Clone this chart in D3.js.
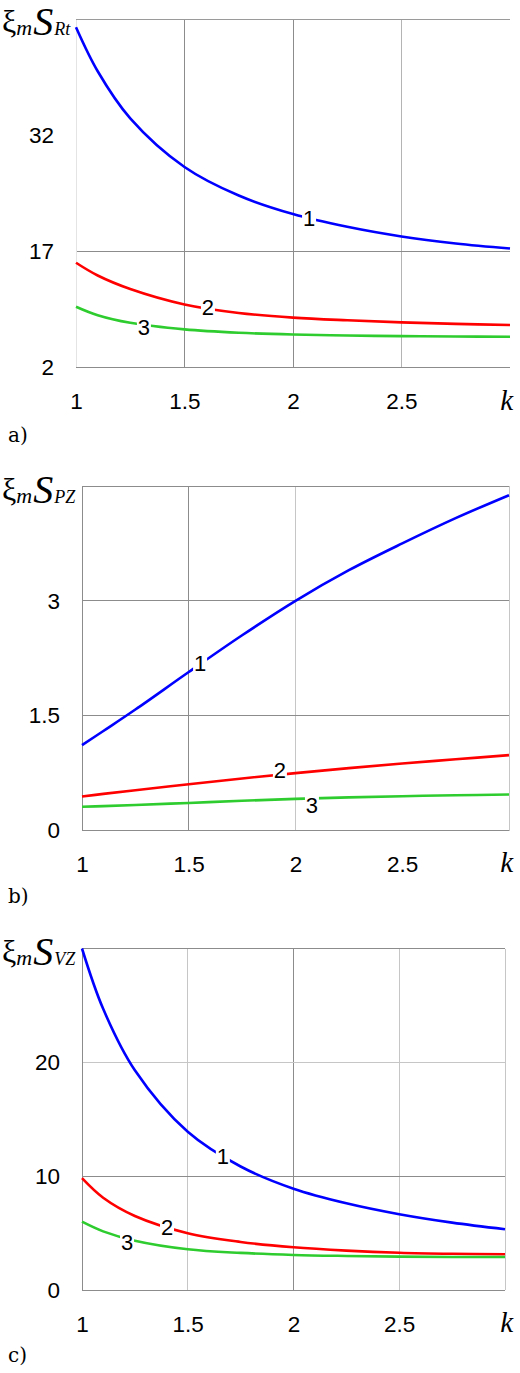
<!DOCTYPE html>
<html>
<head>
<meta charset="utf-8">
<script src="https://cdn.jsdelivr.net/npm/d3@7"></script>
<style>
  html, body { margin: 0; padding: 0; background: #fff; }
  svg { display: block; }
</style>
</head>
<body>
<svg id="chart" width="520" height="1373"></svg>
<script>
// ---------- data ----------
const kValues = [1, 1.1, 1.25, 1.5, 1.75, 2, 2.25, 2.5, 2.75, 3];
const xTickLabels = [1, 1.5, 2, 2.5];

// panel a: ξm S_Rt
const aCurve1 = [46.0, 40.3, 34.2, 27.9, 24.2, 21.8, 20.15, 18.9, 18.0, 17.35];
const aCurve2 = [15.5, 13.85, 12.1, 10.1, 9.0, 8.4, 8.05, 7.78, 7.58, 7.43];
const aCurve3 = [9.8, 8.7, 7.72, 6.87, 6.43, 6.2, 6.08, 6.0, 5.95, 5.92];
const aYTicks = [2, 17, 32];
const aYDomain = [2, 47];

// panel b: ξm S_PZ
const bCurve1 = [1.115, 1.30, 1.58, 2.07, 2.55, 3.0, 3.40, 3.75, 4.08, 4.38];
const bCurve2 = [0.445, 0.478, 0.525, 0.605, 0.68, 0.75, 0.815, 0.875, 0.93, 0.985];
const bCurve3 = [0.31, 0.318, 0.333, 0.36, 0.388, 0.413, 0.433, 0.448, 0.46, 0.47];
const bYTicks = [0, 1.5, 3];
const bYDomain = [0, 4.5];

// panel c: ξm S_VZ
const cCurve1 = [30.0, 24.7, 19.3, 13.9, 10.85, 8.9, 7.62, 6.66, 5.92, 5.34];
const cCurve2 = [9.82, 8.1, 6.5, 4.99, 4.22, 3.75, 3.46, 3.27, 3.18, 3.14];
const cCurve3 = [6.0, 5.15, 4.33, 3.58, 3.26, 3.08, 2.99, 2.93, 2.9, 2.9];
const cYTicks = [0, 10, 20];
const cYDomain = [0, 30];

const curveNames = ["1", "2", "3"];
// label anchor positions [k, value]
const aLabelPos = [[2.074, 21.3], [1.608, 9.76], [1.313, 7.17]];
const bLabelPos = [[1.553, 2.19], [1.927, 0.79], [2.077, 0.337]];
const cLabelPos = [[1.666, 11.8], [1.402, 5.54], [1.213, 4.22]];

const panelLetters = ["a)", "b)", "c)"];
const ySubscripts = ["Rt", "PZ", "VZ"];

// ---------- layout / style ----------
const colors = ["#0000ff", "#ff0000", "#2ecc2e"];
const DARK = "#8c8c8c", LIGHT = "#c6c6c6";

const panels = [
  { curves: [aCurve1, aCurve2, aCurve3], yTicks: aYTicks, yDomain: aYDomain, labels: aLabelPos,
    x0: 76, x1: 510, yBottom: 367, yTop: 19.5, titleBase: 35, letterBase: 442, kBase: 410,
    leftColor: "#e4e4e4", rightColor: null, topColor: "#9a9a9a",
    vgrid: [[1.5, DARK], [2, DARK], [2.5, "#b4b4b4"]], hgrid: [[17, DARK]] },
  { curves: [bCurve1, bCurve2, bCurve3], yTicks: bYTicks, yDomain: bYDomain, labels: bLabelPos,
    x0: 82, x1: 509, yBottom: 830.5, yTop: 486, titleBase: 503, letterBase: 903, kBase: 872,
    leftColor: DARK, rightColor: LIGHT, topColor: DARK,
    vgrid: [[1.5, DARK], [2, LIGHT]], hgrid: [[1.5, DARK], [3, DARK]] },
  { curves: [cCurve1, cCurve2, cCurve3], yTicks: cYTicks, yDomain: cYDomain, labels: cLabelPos,
    x0: 82, x1: 505, yBottom: 1290, yTop: 948.5, titleBase: 965, letterBase: 1362, kBase: 1332,
    leftColor: DARK, rightColor: LIGHT, topColor: DARK,
    vgrid: [[1.5, LIGHT], [2, DARK], [2.5, LIGHT]], hgrid: [[10, DARK], [20, LIGHT]] }
];

const svg = d3.select("#chart");
const sans = "'Liberation Sans', Arial, sans-serif";
const serif = "'Liberation Serif', 'Times New Roman', serif";

panels.forEach((p, pi) => {
  const x = d3.scaleLinear().domain([1, 3]).range([p.x0, p.x1]);
  const y = d3.scaleLinear().domain(p.yDomain).range([p.yBottom, p.yTop]);
  const g = svg.append("g");

  // grid
  p.vgrid.forEach(([v, c]) => {
    g.append("line").attr("x1", x(v)).attr("x2", x(v)).attr("y1", y(p.yDomain[0])).attr("y2", y(p.yDomain[1]))
      .attr("stroke", c).attr("stroke-width", 1).attr("shape-rendering", "crispEdges");
  });
  p.hgrid.forEach(([v, c]) => {
    g.append("line").attr("x1", x(1)).attr("x2", x(3)).attr("y1", y(v)).attr("y2", y(v))
      .attr("stroke", c).attr("stroke-width", 1).attr("shape-rendering", "crispEdges");
  });
  // frame lines
  g.append("line").attr("x1", x(1)).attr("x2", x(3)).attr("y1", y(p.yDomain[1])).attr("y2", y(p.yDomain[1]))
    .attr("stroke", p.topColor).attr("stroke-width", 1).attr("shape-rendering", "crispEdges");
  if (p.rightColor) {
    g.append("line").attr("x1", x(3)).attr("x2", x(3)).attr("y1", y(p.yDomain[0])).attr("y2", y(p.yDomain[1]))
      .attr("stroke", p.rightColor).attr("stroke-width", 1).attr("shape-rendering", "crispEdges");
  }
  g.append("line").attr("x1", x(1)).attr("x2", x(1)).attr("y1", y(p.yDomain[0])).attr("y2", y(p.yDomain[1]))
    .attr("stroke", p.leftColor).attr("stroke-width", 1).attr("shape-rendering", "crispEdges");
  g.append("line").attr("x1", x(1)).attr("x2", x(3)).attr("y1", y(p.yDomain[0])).attr("y2", y(p.yDomain[0]))
    .attr("stroke", DARK).attr("stroke-width", 1).attr("shape-rendering", "crispEdges");

  // axes (labels only)
  const xAxis = d3.axisBottom(x).tickValues(xTickLabels).tickSize(0).tickPadding(26).tickFormat(d3.format(""));
  const gx = g.append("g").attr("transform", `translate(0,${p.yBottom})`).call(xAxis);
  gx.select(".domain").remove();
  gx.selectAll("text").attr("font-family", sans).attr("font-size", 22.5).attr("fill", "#000");

  const yAxis = d3.axisLeft(y).tickValues(p.yTicks).tickSize(0).tickPadding(22).tickFormat(d3.format(""));
  const gy = g.append("g").attr("transform", `translate(${p.x0},0)`).call(yAxis);
  gy.select(".domain").remove();
  gy.selectAll("text").attr("font-family", sans).attr("font-size", 22.5).attr("fill", "#000");

  // curves
  const line = d3.line().x((d, i) => x(kValues[i])).y(d => y(d)).curve(d3.curveCatmullRom.alpha(0.5));
  p.curves.forEach((vals, ci) => {
    g.append("path").datum(vals).attr("d", line).attr("fill", "none")
      .attr("stroke", colors[ci]).attr("stroke-width", 2.6);
  });

  // curve labels
  p.labels.forEach(([kv, v], ci) => {
    const lx = x(kv), ly = y(v);
    g.append("rect").attr("x", lx - 7).attr("y", ly - 11).attr("width", 14).attr("height", 22).attr("fill", "#fff");
    g.append("text").attr("x", lx).attr("y", ly).attr("dy", "0.36em").attr("text-anchor", "middle")
      .attr("font-family", sans).attr("font-size", 22).attr("fill", "#000").text(curveNames[ci]);
  });

  // y title
  const t = svg.append("text").attr("x", 2).attr("y", p.titleBase).attr("font-family", serif).attr("fill", "#000");
  t.append("tspan").attr("font-size", 32).attr("dy", -3).text("ξ");
  t.append("tspan").attr("font-size", 22).attr("font-style", "italic").attr("dy", 3).text("m");
  t.append("tspan").attr("font-size", 40).attr("font-style", "italic").attr("dx", 1).text("S");
  t.append("tspan").attr("font-size", 18).attr("font-style", "italic").attr("dx", 1).text(ySubscripts[pi]);

  // k label
  svg.append("text").attr("x", 513).attr("y", p.kBase).attr("text-anchor", "end")
    .attr("font-family", serif).attr("font-style", "italic").attr("font-size", 29).attr("fill", "#000").text("k");

  // panel letter
  svg.append("text").attr("x", 8).attr("y", p.letterBase)
    .attr("font-family", "'DejaVu Serif', serif").attr("font-size", 20).attr("fill", "#000").text(panelLetters[pi]);
});
</script>
</body>
</html>
